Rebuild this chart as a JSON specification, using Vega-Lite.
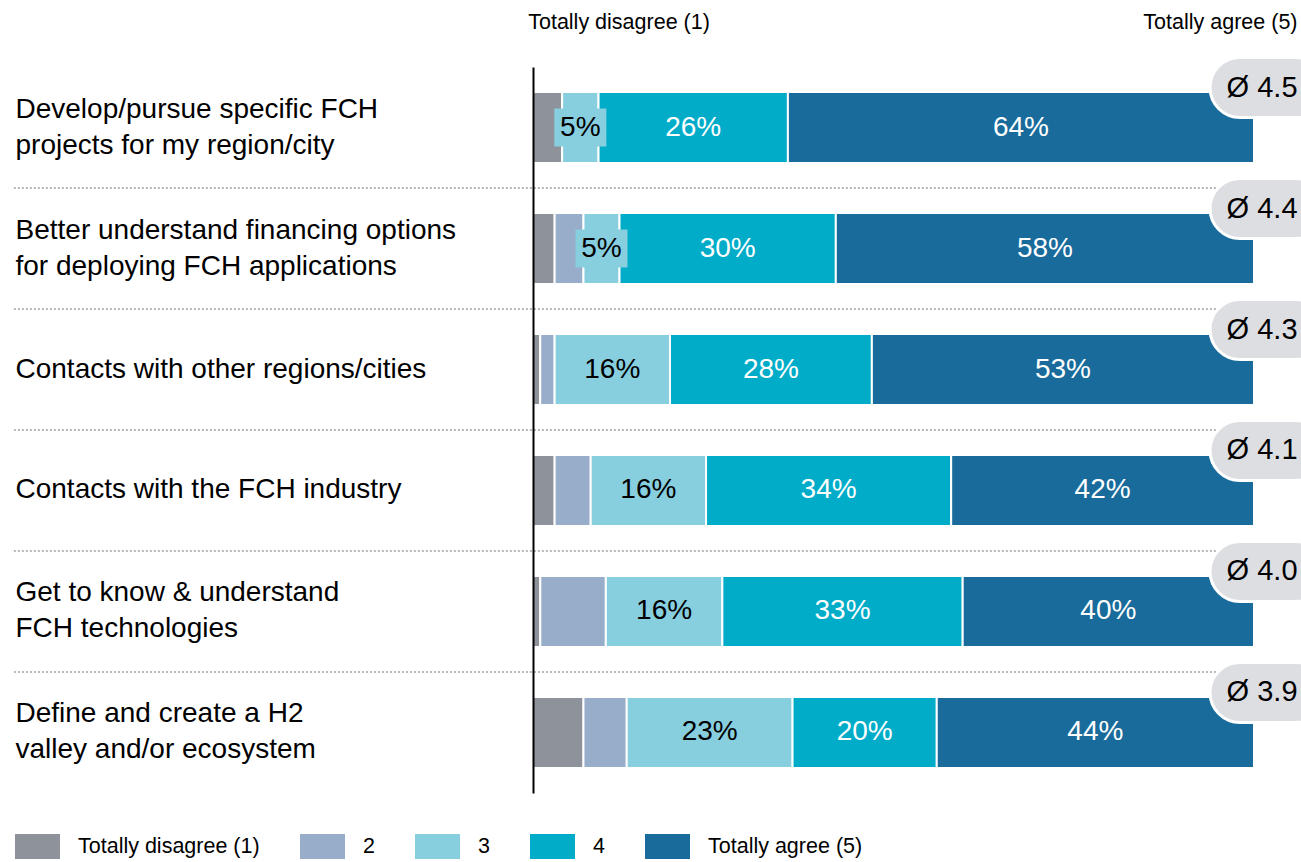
{
  "$schema": "https://vega.github.io/schema/vega-lite/v6.json",
  "width": 721,
  "height": 726,
  "autosize": {"type": "none"},
  "padding": {"left": 533, "top": 67, "right": 47, "bottom": 69},
  "background": "white",
  "config": {"font": "Liberation Sans", "view": {"stroke": null}},
  "datasets": {
    "shares": [
      {"question": "Develop/pursue specific FCH\nprojects for my region/city", "rating": 1, "share": 0.04},
      {"question": "Develop/pursue specific FCH\nprojects for my region/city", "rating": 3, "share": 0.05},
      {"question": "Develop/pursue specific FCH\nprojects for my region/city", "rating": 4, "share": 0.26},
      {"question": "Develop/pursue specific FCH\nprojects for my region/city", "rating": 5, "share": 0.64},
      {"question": "Better understand financing options\nfor deploying FCH applications", "rating": 1, "share": 0.03},
      {"question": "Better understand financing options\nfor deploying FCH applications", "rating": 2, "share": 0.04},
      {"question": "Better understand financing options\nfor deploying FCH applications", "rating": 3, "share": 0.05},
      {"question": "Better understand financing options\nfor deploying FCH applications", "rating": 4, "share": 0.30},
      {"question": "Better understand financing options\nfor deploying FCH applications", "rating": 5, "share": 0.58},
      {"question": "Contacts with other regions/cities", "rating": 1, "share": 0.01},
      {"question": "Contacts with other regions/cities", "rating": 2, "share": 0.02},
      {"question": "Contacts with other regions/cities", "rating": 3, "share": 0.16},
      {"question": "Contacts with other regions/cities", "rating": 4, "share": 0.28},
      {"question": "Contacts with other regions/cities", "rating": 5, "share": 0.53},
      {"question": "Contacts with the FCH industry", "rating": 1, "share": 0.03},
      {"question": "Contacts with the FCH industry", "rating": 2, "share": 0.05},
      {"question": "Contacts with the FCH industry", "rating": 3, "share": 0.16},
      {"question": "Contacts with the FCH industry", "rating": 4, "share": 0.34},
      {"question": "Contacts with the FCH industry", "rating": 5, "share": 0.42},
      {"question": "Get to know & understand\nFCH technologies", "rating": 1, "share": 0.01},
      {"question": "Get to know & understand\nFCH technologies", "rating": 2, "share": 0.09},
      {"question": "Get to know & understand\nFCH technologies", "rating": 3, "share": 0.16},
      {"question": "Get to know & understand\nFCH technologies", "rating": 4, "share": 0.33},
      {"question": "Get to know & understand\nFCH technologies", "rating": 5, "share": 0.40},
      {"question": "Define and create a H2\nvalley and/or ecosystem", "rating": 1, "share": 0.07},
      {"question": "Define and create a H2\nvalley and/or ecosystem", "rating": 2, "share": 0.06},
      {"question": "Define and create a H2\nvalley and/or ecosystem", "rating": 3, "share": 0.23},
      {"question": "Define and create a H2\nvalley and/or ecosystem", "rating": 4, "share": 0.20},
      {"question": "Define and create a H2\nvalley and/or ecosystem", "rating": 5, "share": 0.44}
    ],
    "averages": [
      {"question": "Develop/pursue specific FCH\nprojects for my region/city", "avg": 4.5},
      {"question": "Better understand financing options\nfor deploying FCH applications", "avg": 4.4},
      {"question": "Contacts with other regions/cities", "avg": 4.3},
      {"question": "Contacts with the FCH industry", "avg": 4.1},
      {"question": "Get to know & understand\nFCH technologies", "avg": 4.0},
      {"question": "Define and create a H2\nvalley and/or ecosystem", "avg": 3.9}
    ]
  },
  "layer": [
    {
      "data": {"name": "shares"},
      "mark": {"type": "bar", "stroke": "white", "strokeWidth": 2},
      "encoding": {
        "y": {
          "field": "question", "type": "nominal", "sort": null,
          "scale": {"paddingInner": 0.413, "paddingOuter": 0.2066},
          "axis": {
            "title": null, "ticks": false, "domain": true, "domainColor": "black", "domainWidth": 2, "zindex": 1,
            "labelAlign": "left", "labelPadding": 518, "labelFontSize": 28, "labelLineHeight": 36,
            "labelBaseline": "middle", "labelColor": "black", "labelLimit": 0,
            "labelOffset": {"condition": {"test": "indexof(datum.value, '\\n') >= 0", "value": -18}, "value": 0},
            "labelExpr": "split(datum.label, '\\n')"
          }
        },
        "x": {
          "field": "share", "type": "quantitative", "stack": "normalize",
          "scale": {"domain": [0, 1], "nice": false, "zero": false},
          "axis": {
            "orient": "top", "values": [0.1186, 1], "title": null,
            "labelExpr": "datum.value < 0.5 ? 'Totally disagree (1)' : 'Totally agree (5)'",
            "domain": false, "ticks": false, "grid": false, "labelFontSize": 21.5, "labelLimit": 0,
            "labelPadding": 34, "labelColor": "black", "labelOverlap": false, "labelBound": false, "labelFlush": false,
            "labelAlign": {"condition": {"test": "datum.value > 0.5", "value": "right"}, "value": "center"},
            "labelOffset": {"condition": {"test": "datum.value > 0.5", "value": 43}, "value": 0}
          }
        },
        "order": {"field": "rating", "type": "quantitative"},
        "color": {
          "field": "rating", "type": "nominal",
          "scale": {"domain": [1, 2, 3, 4, 5], "range": ["#8e939b", "#98adc9", "#87cedf", "#00acc8", "#186b9b"]},
          "legend": {
            "orient": "none", "legendX": -518, "legendY": 757, "direction": "horizontal", "title": null,
            "symbolType": "M-1,-0.555H1V0.555H-1Z", "symbolSize": 2025, "symbolStrokeWidth": 0, "symbolOpacity": 1,
            "labelFontSize": 21.5, "labelOffset": 18, "columnPadding": 40, "labelColor": "black", "labelLimit": 0,
            "labelExpr": "datum.label == '1' ? 'Totally disagree (1)' : datum.label == '5' ? 'Totally agree (5)' : datum.label"
          }
        }
      }
    },
    {
      "data": {"name": "shares"},
      "mark": {"type": "point", "shape": "M-1,-0.73H1V0.73H-1Z", "filled": true, "size": 2704, "color": "#87cedf", "strokeWidth": 0},
      "encoding": {
        "y": {"field": "question", "type": "nominal", "sort": null},
        "x": {"field": "share", "type": "quantitative", "stack": "normalize", "bandPosition": 0.5, "title": null},
        "order": {"field": "rating", "type": "quantitative"},
        "opacity": {"condition": {"test": "datum.rating == 3 && datum.share < 0.08", "value": 1}, "value": 0}
      }
    },
    {
      "data": {"name": "shares"},
      "mark": {"type": "text", "fontSize": 28, "baseline": "middle", "align": "center"},
      "encoding": {
        "y": {"field": "question", "type": "nominal", "sort": null},
        "x": {"field": "share", "type": "quantitative", "stack": "normalize", "bandPosition": 0.5, "title": null},
        "order": {"field": "rating", "type": "quantitative"},
        "text": {"condition": {"test": "datum.rating < 3", "value": ""}, "field": "share", "type": "quantitative", "format": ".0%"},
        "color": {"condition": {"test": "datum.rating == 3", "value": "black"}, "value": "white"}
      }
    },
    {
      "data": {"name": "averages"},
      "transform": [{"filter": "indexof(datum.question, 'Develop') < 0"}],
      "mark": {"type": "rule", "strokeDash": [2, 2], "color": "#a0a0a0", "strokeWidth": 1.5, "yOffset": -60.5},
      "encoding": {
        "y": {"field": "question", "type": "nominal", "sort": null},
        "x": {"datum": -0.72},
        "x2": {"datum": 1.0}
      }
    },
    {
      "data": {"name": "averages"},
      "mark": {"type": "bar", "height": 60, "yOffset": -40, "cornerRadius": 30, "fill": "#dddee2", "stroke": "white", "strokeWidth": 3},
      "encoding": {
        "y": {"field": "question", "type": "nominal", "sort": null},
        "x": {"datum": 0.939},
        "x2": {"datum": 1.1}
      }
    },
    {
      "data": {"name": "averages"},
      "transform": [{"calculate": "'Ø ' + format(datum.avg, '.1f')", "as": "avg_label"}],
      "mark": {"type": "text", "fontSize": 29, "align": "left", "baseline": "middle", "yOffset": -40, "color": "black"},
      "encoding": {
        "y": {"field": "question", "type": "nominal", "sort": null},
        "x": {"datum": 0.962},
        "text": {"field": "avg_label", "type": "nominal"}
      }
    }
  ]
}
